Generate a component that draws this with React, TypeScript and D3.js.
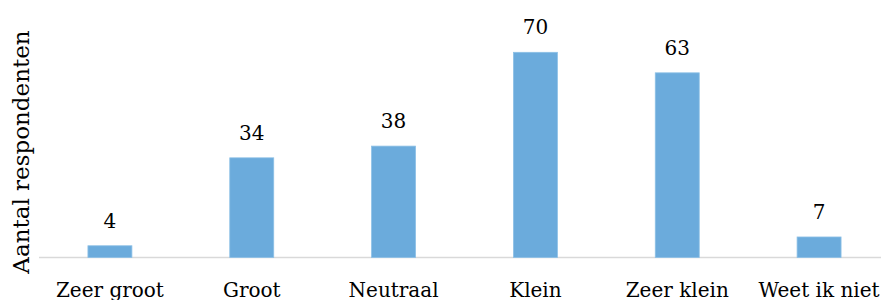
import React, { useEffect, useRef } from 'react';
import * as d3 from 'd3';

const categories = ['Zeer groot', 'Groot', 'Neutraal', 'Klein', 'Zeer klein', 'Weet ik niet'];
const values = [4, 34, 38, 70, 63, 7];
const yLabel = 'Aantal respondenten';

const App: React.FC = () => {
  const svgRef = useRef<SVGSVGElement>(null);

  useEffect(() => {
    const svg = d3.select(svgRef.current);
    svg.selectAll('*').remove();

    const width = 881;
    const height = 300;
    const font = "'DejaVu Serif', serif";
    const base = 257.5;

    const x = d3.scaleBand<string>()
      .domain(categories)
      .range([39, 890])
      .paddingInner(0.69)
      .paddingOuter(0.345);

    const y = d3.scaleLinear()
      .domain([0, 80])
      .range([base, base - 234.5]);

    svg.attr('width', width).attr('height', height);

    // baseline
    svg.append('line')
      .attr('x1', 39).attr('x2', width)
      .attr('y1', base).attr('y2', base)
      .attr('stroke', '#d9d9d9')
      .attr('stroke-width', 1.5);

    svg.selectAll('.bar')
      .data(values)
      .enter().append('rect')
      .attr('class', 'bar')
      .attr('x', (d, i) => x(categories[i])!)
      .attr('y', d => y(d))
      .attr('width', x.bandwidth())
      .attr('height', d => base - y(d))
      .attr('fill', '#6BABDC')
      .attr('stroke', '#8DC0E6')
      .attr('stroke-width', 0.8);

    svg.selectAll('.val')
      .data(values)
      .enter().append('text')
      .attr('class', 'val')
      .attr('x', (d, i) => x(categories[i])! + x.bandwidth() / 2)
      .attr('y', d => y(d) - 18)
      .attr('text-anchor', 'middle')
      .style('font-family', font)
      .style('font-size', '20px')
      .attr('fill', '#000')
      .text(d => d);

    svg.selectAll('.cat')
      .data(categories)
      .enter().append('text')
      .attr('class', 'cat')
      .attr('x', d => x(d)! + x.bandwidth() / 2)
      .attr('y', 297)
      .attr('text-anchor', 'middle')
      .style('font-family', font)
      .style('font-size', '20px')
      .attr('fill', '#000')
      .text(d => d);

    svg.append('text')
      .attr('transform', 'translate(29,152) rotate(-90)')
      .attr('text-anchor', 'middle')
      .style('font-family', font)
      .style('font-size', '23px')
      .attr('fill', '#000')
      .text(yLabel);
  }, []);

  return (
    <svg ref={svgRef} style={{ position: 'absolute', left: 0, top: 0, display: 'block' }}></svg>
  );
};

export default App;
